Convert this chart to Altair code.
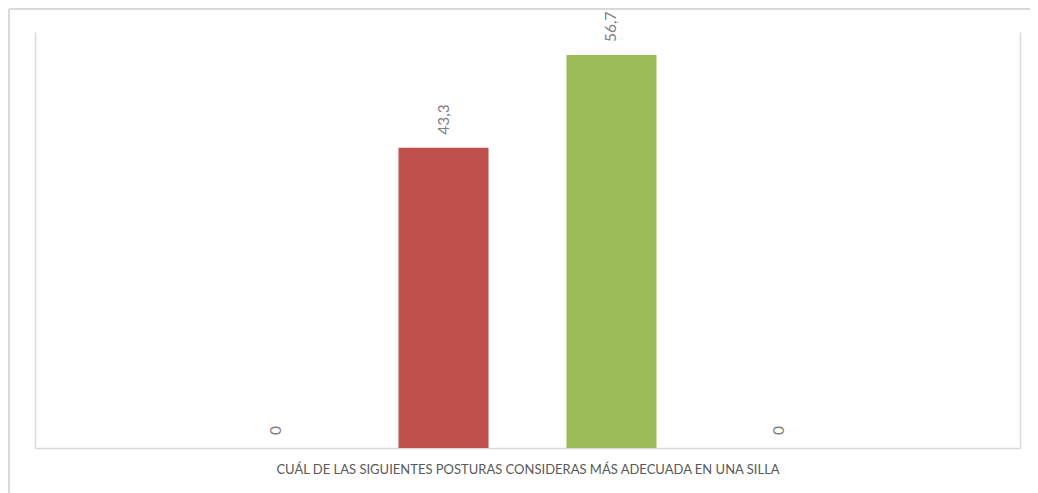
import altair as alt
import pandas as pd

category = "CUÁL DE LAS SIGUIENTES POSTURAS CONSIDERAS MÁS ADECUADA EN UNA SILLA"
series = ["Serie 1", "Serie 2", "Serie 3", "Serie 4"]
values = [0, 43.3, 56.7, 0]
colors = ["#4F81BD", "#C0504D", "#9BBB59", "#8064A2"]

df = pd.DataFrame({"categoria": [category] * len(series), "serie": series, "valor": values})
df["etiqueta"] = [f"{v:g}".replace(".", ",") for v in values]

x = alt.X(
    "categoria:N",
    title=None,
    scale=alt.Scale(paddingInner=0, paddingOuter=0),
    axis=alt.Axis(
        labelAngle=0, grid=True, tickBand="extent", ticks=False,
        domainColor="#d9d9d9", domainWidth=1.5,
        gridColor="#d9d9d9", gridWidth=1.5,
        labelColor="#595959", labelFontSize=13, labelFont="Lato",
        labelPadding=15, labelLimit=0,
    ),
)
xo = alt.XOffset("serie:N", sort=series,
                 scale=alt.Scale(range=[195.5, 789.5], paddingInner=0.464, paddingOuter=0))
y = alt.Y("valor:Q", scale=alt.Scale(domain=[0, 60]), axis=None)

bars = alt.Chart(df).mark_bar().encode(
    x=x, xOffset=xo, y=y,
    color=alt.Color("serie:N", scale=alt.Scale(domain=series, range=colors), legend=None),
)
labels = alt.Chart(df).mark_text(
    angle=270, align="left", baseline="middle", dx=13,
    font="Lato", fontSize=15.5, color="#808080",
).encode(x=x, xOffset=xo, y=y, text="etiqueta:N")

frame = alt.Data(values=[{}])
border_top = alt.Chart(frame).mark_rule(stroke="#d9d9d9", strokeWidth=2).encode(
    x=alt.value(-26), x2=alt.value(1100), y=alt.value(-23)
)
border_left = alt.Chart(frame).mark_rule(stroke="#d9d9d9", strokeWidth=2).encode(
    x=alt.value(-26), y=alt.value(-23), y2=alt.value(500)
)

chart = alt.layer(border_top, border_left, bars, labels).properties(
    width=985, height=416,
    background="white",
    autosize=alt.AutoSizeParams(type="none"),
    padding={"left": 27, "top": 24, "right": 10, "bottom": 45},
).configure_view(strokeWidth=0)

chart.save("out.html", embed_options={"renderer": "svg", "actions": False})
